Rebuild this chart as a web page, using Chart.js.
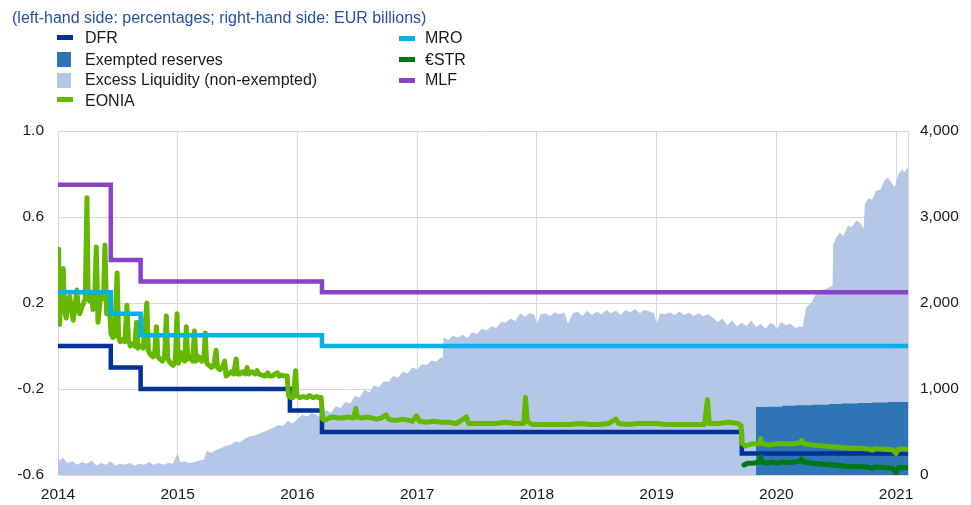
<!DOCTYPE html>
<html>
<head>
<meta charset="utf-8">
<script src="https://cdn.jsdelivr.net/npm/chart.js@4.4.0/dist/chart.umd.min.js"></script>
<style>
  html, body { margin: 0; padding: 0; background: #ffffff; }
  #wrap { position: relative; width: 971px; height: 505px; overflow: hidden; font-family: "Liberation Sans", Arial, sans-serif; }
  #c { position: absolute; left: 0; top: 0; }
  .title { position: absolute; left: 12px; top: 9px; font-size: 16px; line-height: 18px; color: #2450a4; white-space: nowrap; }
  .lg { position: absolute; font-size: 16px; line-height: 18px; color: #1a1a1a; white-space: nowrap; }
  .mk { position: absolute; }
</style>
</head>
<body>
<div id="wrap">
  <canvas id="c" width="971" height="505"></canvas>
  <div class="title">(left-hand side: percentages; right-hand side: EUR billions)</div>

  <div class="mk" style="left:57px;top:35px;width:16px;height:5px;background:#003299"></div>
  <div class="lg" style="left:85px;top:29px">DFR</div>
  <div class="mk" style="left:57px;top:52px;width:14px;height:15px;background:#2e75b6"></div>
  <div class="lg" style="left:85px;top:51px">Exempted reserves</div>
  <div class="mk" style="left:57px;top:73px;width:14px;height:15px;background:#b4c7e7"></div>
  <div class="lg" style="left:85px;top:71px">Excess Liquidity (non-exempted)</div>
  <div class="mk" style="left:57px;top:97px;width:16px;height:5px;background:#65b800"></div>
  <div class="lg" style="left:85px;top:92px">EONIA</div>

  <div class="mk" style="left:399px;top:36px;width:16px;height:5px;background:#00b1ea"></div>
  <div class="lg" style="left:425px;top:29px">MRO</div>
  <div class="mk" style="left:399px;top:57px;width:16px;height:5px;background:#007816"></div>
  <div class="lg" style="left:425px;top:51px">€STR</div>
  <div class="mk" style="left:399px;top:78px;width:16px;height:5px;background:#8a42c8"></div>
  <div class="lg" style="left:425px;top:71px">MLF</div>
</div>
<script>
// ---------- DATA ----------
const yearTicks = [2014, 2015, 2016, 2017, 2018, 2019, 2020, 2021];
const leftTicks = [-0.6, -0.2, 0.2, 0.6, 1.0];
const rightTicks = [0, 1000, 2000, 3000, 4000];

// policy rates: [decimal year, % value] (value applies from that date)
const dfr = [[2014.0,0.00],[2014.441,-0.10],[2014.690,-0.20],[2015.937,-0.30],[2016.205,-0.40],[2019.712,-0.50],[2021.1,-0.50]];
const mro = [[2014.0,0.25],[2014.441,0.15],[2014.690,0.05],[2016.205,0.00],[2021.1,0.00]];
const mlf = [[2014.0,0.75],[2014.441,0.40],[2014.690,0.30],[2016.205,0.25],[2021.1,0.25]];

// EONIA (%)
const eonia = [[2014.000,0.45],[2014.006,0.16],[2014.014,0.10],[2014.024,0.27],[2014.034,0.19],[2014.044,0.36],[2014.054,0.17],[2014.068,0.13],[2014.082,0.21],[2014.098,0.23],[2014.112,0.17],[2014.128,0.12],[2014.144,0.19],[2014.158,0.26],[2014.168,0.18],[2014.182,0.15],[2014.198,0.18],[2014.214,0.20],[2014.228,0.22],[2014.242,0.69],[2014.252,0.23],[2014.264,0.21],[2014.278,0.25],[2014.292,0.17],[2014.306,0.22],[2014.320,0.46],[2014.334,0.11],[2014.350,0.20],[2014.366,0.25],[2014.380,0.22],[2014.392,0.47],[2014.406,0.15],[2014.424,0.24],[2014.442,0.06],[2014.458,0.04],[2014.472,0.05],[2014.494,0.34],[2014.506,0.04],[2014.520,0.02],[2014.538,0.03],[2014.558,0.02],[2014.576,0.19],[2014.588,0.03],[2014.604,0.00],[2014.624,0.01],[2014.642,0.00],[2014.656,0.11],[2014.668,-0.01],[2014.690,0.00],[2014.712,-0.01],[2014.742,0.20],[2014.754,-0.02],[2014.772,-0.04],[2014.792,-0.05],[2014.808,-0.03],[2014.822,0.09],[2014.834,-0.05],[2014.852,-0.06],[2014.872,-0.07],[2014.890,-0.05],[2014.905,0.14],[2014.917,-0.06],[2014.940,-0.08],[2014.962,-0.09],[2014.980,-0.07],[2014.994,0.15],[2015.005,-0.08],[2015.022,-0.03],[2015.040,-0.06],[2015.058,-0.07],[2015.072,0.09],[2015.084,-0.06],[2015.104,-0.05],[2015.124,-0.07],[2015.140,0.07],[2015.152,-0.07],[2015.176,-0.05],[2015.200,-0.07],[2015.218,-0.06],[2015.230,0.06],[2015.242,-0.08],[2015.262,-0.09],[2015.282,-0.10],[2015.302,-0.09],[2015.320,-0.02],[2015.332,-0.10],[2015.352,-0.11],[2015.372,-0.10],[2015.392,-0.07],[2015.404,-0.14],[2015.424,-0.13],[2015.446,-0.12],[2015.468,-0.13],[2015.488,-0.06],[2015.500,-0.13],[2015.520,-0.13],[2015.542,-0.12],[2015.562,-0.13],[2015.580,-0.10],[2015.592,-0.13],[2015.620,-0.12],[2015.645,-0.13],[2015.662,-0.115],[2015.676,-0.13],[2015.700,-0.135],[2015.730,-0.14],[2015.752,-0.125],[2015.766,-0.14],[2015.790,-0.14],[2015.812,-0.13],[2015.832,-0.125],[2015.846,-0.14],[2015.870,-0.135],[2015.895,-0.14],[2015.915,-0.14],[2015.925,-0.23],[2015.945,-0.24],[2015.965,-0.24],[2015.985,-0.115],[2015.995,-0.23],[2016.020,-0.24],[2016.050,-0.235],[2016.080,-0.24],[2016.100,-0.23],[2016.130,-0.24],[2016.160,-0.235],[2016.180,-0.24],[2016.198,-0.24],[2016.210,-0.34],[2016.230,-0.345],[2016.260,-0.335],[2016.300,-0.33],[2016.340,-0.335],[2016.380,-0.335],[2016.420,-0.33],[2016.470,-0.335],[2016.488,-0.29],[2016.500,-0.33],[2016.540,-0.335],[2016.580,-0.33],[2016.620,-0.335],[2016.660,-0.34],[2016.700,-0.335],[2016.740,-0.32],[2016.760,-0.34],[2016.800,-0.345],[2016.840,-0.345],[2016.880,-0.34],[2016.920,-0.345],[2016.960,-0.35],[2016.995,-0.325],[2017.020,-0.35],[2017.080,-0.355],[2017.140,-0.35],[2017.200,-0.355],[2017.260,-0.355],[2017.330,-0.36],[2017.410,-0.33],[2017.430,-0.36],[2017.500,-0.36],[2017.580,-0.36],[2017.660,-0.36],[2017.740,-0.355],[2017.820,-0.36],[2017.890,-0.36],[2017.905,-0.24],[2017.920,-0.35],[2017.960,-0.365],[2018.040,-0.365],[2018.120,-0.365],[2018.200,-0.365],[2018.280,-0.365],[2018.360,-0.36],[2018.440,-0.365],[2018.520,-0.365],[2018.600,-0.36],[2018.660,-0.34],[2018.680,-0.36],[2018.760,-0.365],[2018.840,-0.36],[2018.920,-0.36],[2019.000,-0.36],[2019.080,-0.365],[2019.160,-0.365],[2019.240,-0.365],[2019.320,-0.365],[2019.400,-0.365],[2019.425,-0.25],[2019.440,-0.36],[2019.520,-0.36],[2019.600,-0.355],[2019.680,-0.36],[2019.705,-0.37],[2019.716,-0.455],[2019.740,-0.465],[2019.800,-0.455],[2019.860,-0.455],[2019.870,-0.43],[2019.880,-0.455],[2019.940,-0.46],[2020.000,-0.455],[2020.080,-0.455],[2020.150,-0.455],[2020.200,-0.45],[2020.210,-0.44],[2020.230,-0.455],[2020.300,-0.46],[2020.400,-0.465],[2020.500,-0.47],[2020.600,-0.475],[2020.700,-0.475],[2020.780,-0.48],[2020.800,-0.485],[2020.820,-0.478],[2020.900,-0.48],[2020.970,-0.483],[2021.000,-0.50],[2021.020,-0.48],[2021.090,-0.48]];

// €STR (%)
const estr = [[2019.730,-0.553],[2019.760,-0.545],[2019.800,-0.545],[2019.860,-0.54],[2019.870,-0.515],[2019.880,-0.54],[2019.920,-0.545],[2019.970,-0.54],[2020.000,-0.545],[2020.050,-0.54],[2020.100,-0.542],[2020.150,-0.54],[2020.200,-0.535],[2020.210,-0.525],[2020.230,-0.54],[2020.300,-0.545],[2020.400,-0.55],[2020.500,-0.555],[2020.600,-0.56],[2020.700,-0.56],[2020.780,-0.565],[2020.800,-0.57],[2020.820,-0.563],[2020.900,-0.565],[2020.970,-0.568],[2021.000,-0.59],[2021.020,-0.565],[2021.090,-0.566]];

// Excess liquidity, EUR billions
const excessLiquidity = [[2014.00,280],[2014.01,170],[2014.04,200],[2014.08,140],[2014.12,160],[2014.16,120],[2014.20,150],[2014.24,130],[2014.28,170],[2014.32,110],[2014.36,140],[2014.40,120],[2014.44,160],[2014.48,110],[2014.52,130],[2014.56,120],[2014.60,140],[2014.64,110],[2014.68,130],[2014.72,120],[2014.76,150],[2014.80,120],[2014.84,140],[2014.88,120],[2014.92,140],[2014.96,130],[2015.00,260],[2015.02,150],[2015.06,160],[2015.10,140],[2015.14,150],[2015.18,170],[2015.22,180],[2015.24,280],[2015.28,260],[2015.32,290],[2015.36,310],[2015.40,340],[2015.44,350],[2015.48,390],[2015.52,380],[2015.56,420],[2015.60,450],[2015.64,460],[2015.68,480],[2015.72,500],[2015.76,530],[2015.80,550],[2015.84,580],[2015.88,570],[2015.92,630],[2015.96,600],[2016.00,650],[2016.04,700],[2016.08,680],[2016.12,720],[2016.16,700],[2016.20,660],[2016.24,760],[2016.28,720],[2016.32,800],[2016.36,780],[2016.40,850],[2016.44,830],[2016.48,920],[2016.52,900],[2016.56,990],[2016.60,960],[2016.64,1040],[2016.68,1020],[2016.72,1090],[2016.76,1080],[2016.80,1150],[2016.84,1130],[2016.88,1200],[2016.92,1180],[2016.96,1250],[2017.00,1230],[2017.04,1290],[2017.08,1280],[2017.12,1330],[2017.16,1320],[2017.20,1370],[2017.215,1360],[2017.22,1600],[2017.26,1570],[2017.30,1620],[2017.34,1600],[2017.38,1630],[2017.42,1590],[2017.46,1660],[2017.50,1640],[2017.54,1700],[2017.58,1680],[2017.62,1730],[2017.66,1710],[2017.70,1780],[2017.74,1770],[2017.78,1820],[2017.82,1790],[2017.86,1880],[2017.90,1840],[2017.94,1880],[2017.98,1860],[2018.00,1760],[2018.03,1870],[2018.07,1880],[2018.11,1850],[2018.15,1890],[2018.19,1870],[2018.23,1890],[2018.26,1760],[2018.30,1880],[2018.34,1900],[2018.38,1850],[2018.42,1910],[2018.46,1860],[2018.50,1900],[2018.54,1870],[2018.58,1920],[2018.62,1880],[2018.66,1910],[2018.70,1860],[2018.74,1920],[2018.78,1890],[2018.82,1930],[2018.86,1880],[2018.90,1920],[2018.94,1900],[2018.98,1880],[2019.00,1760],[2019.03,1880],[2019.07,1870],[2019.11,1890],[2019.15,1860],[2019.19,1900],[2019.23,1860],[2019.27,1890],[2019.31,1850],[2019.35,1880],[2019.39,1850],[2019.43,1870],[2019.47,1830],[2019.51,1780],[2019.55,1820],[2019.59,1740],[2019.63,1800],[2019.67,1730],[2019.71,1770],[2019.75,1730],[2019.79,1800],[2019.83,1720],[2019.87,1760],[2019.91,1700],[2019.95,1770],[2019.99,1740],[2020.00,1690],[2020.04,1780],[2020.08,1740],[2020.12,1760],[2020.16,1710],[2020.20,1730],[2020.22,1720],[2020.25,1950],[2020.29,2000],[2020.33,2100],[2020.37,2150],[2020.41,2160],[2020.45,2190],[2020.47,2200],[2020.475,2680],[2020.50,2760],[2020.53,2820],[2020.56,2780],[2020.60,2900],[2020.63,2880],[2020.67,2960],[2020.70,2930],[2020.73,2870],[2020.74,3150],[2020.77,3220],[2020.80,3200],[2020.83,3300],[2020.87,3320],[2020.90,3420],[2020.93,3460],[2020.96,3400],[2020.99,3350],[2021.02,3500],[2021.05,3550],[2021.07,3520],[2021.10,3580]];

// Exempted reserves, EUR billions (value applies from that date)
const exemptedReserves = [[2019.83,790],[2019.92,795],[2020.05,805],[2020.16,810],[2020.30,818],[2020.44,826],[2020.55,832],[2020.68,838],[2020.80,842],[2020.93,848],[2021.10,855]];

// ---------- CHART ----------
const toXY = arr => arr.map(p => ({ x: p[0], y: p[1] }));
const GRID = '#d9d9d9';
const FONT = { family: '"Liberation Sans", Arial, sans-serif', size: 15.5 };

new Chart(document.getElementById('c'), {
  type: 'line',
  data: {
    datasets: [
      { label: 'MLF', data: toXY(mlf), yAxisID: 'y', borderColor: '#8a42c8', borderWidth: 4.5, stepped: true, pointRadius: 0, fill: false, order: 1 },
      { label: 'MRO', data: toXY(mro), yAxisID: 'y', borderColor: '#00b1ea', borderWidth: 4.5, stepped: true, pointRadius: 0, fill: false, order: 2 },
      { label: 'EONIA', data: toXY(eonia), yAxisID: 'y', borderColor: '#65b800', borderWidth: 5, borderJoinStyle: 'round', borderCapStyle: 'round', pointRadius: 0, fill: false, order: 3 },
      { label: '€STR', data: toXY(estr), yAxisID: 'y', borderColor: '#007816', borderWidth: 5, borderJoinStyle: 'round', borderCapStyle: 'round', pointRadius: 0, fill: false, order: 4 },
      { label: 'DFR', data: toXY(dfr), yAxisID: 'y', borderColor: '#003299', borderWidth: 4.5, stepped: true, pointRadius: 0, fill: false, order: 5 },
      { label: 'Exempted reserves', data: toXY(exemptedReserves), yAxisID: 'y2', borderWidth: 0, borderColor: 'rgba(0,0,0,0)', backgroundColor: '#2e75b6', stepped: true, pointRadius: 0, fill: 'origin', order: 9 },
      { label: 'Excess Liquidity (non-exempted)', data: toXY(excessLiquidity), yAxisID: 'y2', borderWidth: 0, borderColor: 'rgba(0,0,0,0)', backgroundColor: '#b4c7e7', pointRadius: 0, tension: 0, fill: 'origin', order: 10 }
    ]
  },
  options: {
    responsive: false,
    animation: false,
    devicePixelRatio: 1,
    layout: { padding: { top: 131, left: 0, right: 0, bottom: 0 } },
    plugins: { legend: { display: false }, tooltip: { enabled: false }, title: { display: false } },
    elements: { point: { radius: 0 }, line: { borderCapStyle: 'butt' } },
    scales: {
      x: {
        type: 'linear', min: 2014, max: 2021.1,
        afterBuildTicks: s => { s.ticks = yearTicks.map(v => ({ value: v })); },
        afterFit: s => { s.height = 30; },
        grid: { color: GRID, drawTicks: false, lineWidth: 1 },
        border: { color: GRID },
        ticks: { font: FONT, color: '#1a1a1a', padding: 10, maxRotation: 0, autoSkip: false, callback: v => String(v) }
      },
      y: {
        position: 'left', min: -0.6, max: 1.0,
        afterBuildTicks: s => { s.ticks = leftTicks.map(v => ({ value: v })); },
        afterFit: s => { s.width = 58; },
        grid: { color: GRID, drawTicks: false, lineWidth: 1 },
        border: { color: GRID },
        ticks: { font: FONT, color: '#1a1a1a', padding: 14, callback: v => Number(v).toFixed(1) }
      },
      y2: {
        position: 'right', min: 0, max: 4000,
        afterBuildTicks: s => { s.ticks = rightTicks.map(v => ({ value: v })); },
        afterFit: s => { s.width = 63; },
        grid: { display: false, drawTicks: false },
        border: { color: GRID },
        ticks: { font: FONT, color: '#1a1a1a', padding: 12, callback: v => Number(v).toLocaleString('en-US') }
      }
    }
  }
});
</script>
</body>
</html>
